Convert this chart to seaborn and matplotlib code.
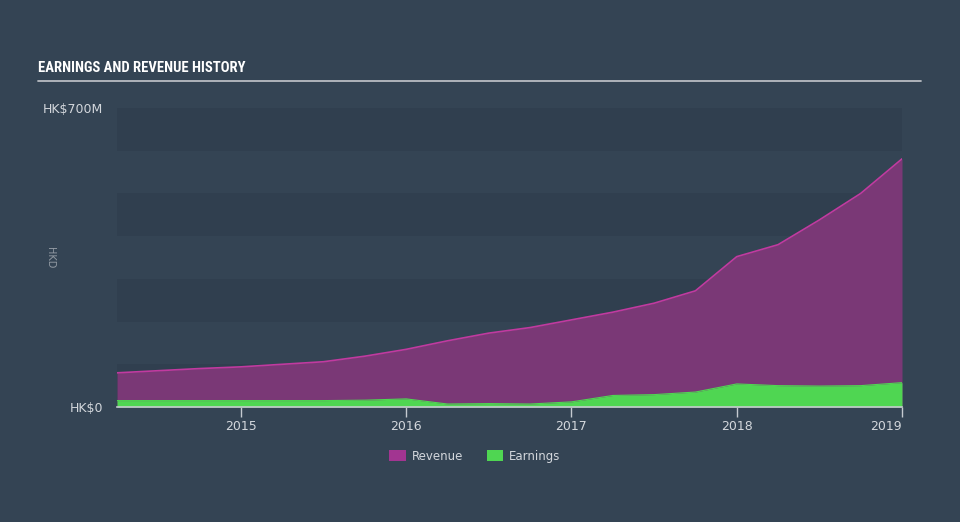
import matplotlib
matplotlib.use("Agg")
import matplotlib.pyplot as plt
import seaborn as sns
import pandas as pd
import numpy as np
from matplotlib.patches import Patch

# ---- data (HK$ millions, quarterly) ----
years = [2014.25, 2014.5, 2014.75, 2015.0, 2015.25, 2015.5, 2015.75, 2016.0,
         2016.25, 2016.5, 2016.75, 2017.0, 2017.25, 2017.5, 2017.75, 2018.0,
         2018.25, 2018.5, 2018.75, 2019.0]
revenue = [80, 85, 90, 94, 100, 106, 119, 135, 155, 173, 186, 204, 222, 243,
           272, 352, 380, 438, 500, 581]
earnings = [15, 15, 15, 15, 15, 15, 16, 19, 7, 8, 7, 12, 27, 29, 35, 54,
            50, 49, 50, 57]
xtick_vals = [2015, 2016, 2017, 2018, 2019]
xtick_labels = ["2015", "2016", "2017", "2018", "2019"]
ytick_vals = [0, 700]
ytick_labels = ["HK$0", "HK$700M"]

df = pd.DataFrame({"year": years, "Revenue": revenue, "Earnings": earnings})

BG = "#344454"
BAND = "#303f4f"
REV_FILL = "#7a3876"
REV_LINE = "#c13aa0"
EARN_FILL = "#4fd652"
TXT = "#d3d7dc"

sns.set_theme(style="dark")
plt.rcParams["font.family"] = ["DejaVu Sans"]

fig = plt.figure(figsize=(9.6, 5.22), dpi=100, facecolor=BG)
ax = fig.add_axes([117/960, 1-407/522, (902-117)/960, (407-108)/522])
ax.set_facecolor(BG)

# horizontal bands
for lo in range(0, 700, 200):
    ax.axhspan(lo, lo + 100, color=BAND, zorder=0, lw=0)

ax.fill_between(df["year"], 0, df["Revenue"], color=REV_FILL, lw=0, zorder=2)
sns.lineplot(data=df, x="year", y="Revenue", ax=ax, color=REV_LINE, lw=1.2, zorder=3)
ax.fill_between(df["year"], 0, df["Earnings"], color=EARN_FILL, lw=0, zorder=4)
sns.lineplot(data=df, x="year", y="Earnings", ax=ax, color=EARN_FILL, lw=0.8, zorder=4)

ax.set_xlim(2014.25, 2019.0)
ax.set_ylim(0, 700)
ax.set_xlabel("")
ax.set_ylabel("")
for s in ["top", "right", "left"]:
    ax.spines[s].set_visible(False)
ax.spines["bottom"].set_color("#c5cad0")
ax.spines["bottom"].set_linewidth(1.2)
ax.spines["bottom"].set_zorder(6)
ax.grid(False)

ax.set_xticks(xtick_vals)
ax.set_xticklabels(xtick_labels)
ax.set_yticks(ytick_vals)
ax.set_yticklabels(ytick_labels)
ax.tick_params(axis="x", colors=TXT, labelsize=9, length=7, width=1, color="#c5cad0",
               direction="out", pad=2, bottom=True)
ax.tick_params(axis="y", colors=TXT, labelsize=9, length=0, pad=10)
ax.get_xticklabels()[-1].set_horizontalalignment("right")

# axis unit label
fig.text(50/960, 1-258/522, "HKD", rotation=270, color="#aab0b7", fontsize=7,
         ha="center", va="center", alpha=0.8)

# title and rule
fig.text(38/960, 1-68/522, "EARNINGS AND REVENUE HISTORY", color="white",
         fontsize=10.5, fontweight="bold",
         family=["Roboto Condensed", "Roboto", "DejaVu Sans"],
         ha="left", va="center")
fig.add_artist(plt.Line2D([38/960, 921/960], [1-81/522, 1-81/522],
                          color="#b8bcc2", lw=1.3))

# legend
handles = [Patch(facecolor="#a23591", edgecolor="none", label="Revenue"),
           Patch(facecolor=EARN_FILL, edgecolor="none", label="Earnings")]
leg = fig.legend(handles=handles, loc="center", bbox_to_anchor=(475/960, 1-456/522),
                 ncol=2, frameon=False, fontsize=8.5, handlelength=1.4,
                 handleheight=1.0, columnspacing=2.0, handletextpad=0.5)
for t in leg.get_texts():
    t.set_color(TXT)

fig.savefig("out.png", dpi=100, facecolor=BG)
